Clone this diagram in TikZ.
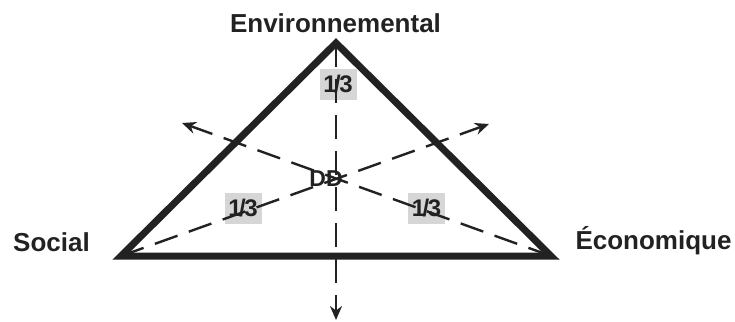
\documentclass[tikz,border=0pt]{standalone}
\usepackage{fontspec}
\setmainfont{Liberation Sans}
\usetikzlibrary{arrows.meta}
\definecolor{ink}{HTML}{222222}
\definecolor{boxgray}{HTML}{D6D6D6}
\begin{document}
\begin{tikzpicture}[x=1pt,y=-1pt,
  lbl/.style={font=\fontsize{26}{28}\selectfont\bfseries, text=ink, inner sep=0pt, anchor=base},
  frac/.style={fill=boxgray, minimum width=37pt, minimum height=31pt, inner sep=0pt, text=ink,
     font=\fontsize{24}{26}\selectfont\bfseries},
  dd/.style={font=\fontsize{23}{25}\selectfont\bfseries, text=ink, inner sep=0pt},
  axis/.style={draw=ink, line width=2.4pt, dash pattern=on 24pt off 12pt, -{Stealth[length=14pt,width=12pt]}},
  tri/.style={draw=ink, line width=7pt, line join=miter}]
\useasboundingbox (0,0) rectangle (735,321);
\coordinate (T) at (336,43);
\coordinate (L) at (121,256);
\coordinate (R) at (551,256);
\coordinate (AD) at (336,320);
\coordinate (AL) at (182,123);
\coordinate (AR) at (489,124);
\node[frac] (f1) at (338,84) {1\kern-2.5pt/\kern-1.5pt3};
\node[frac] (f2) at (243,208.5) {1\kern-2.5pt/\kern-1.5pt3};
\node[frac] (f3) at (426.5,208.5) {1\kern-2.5pt/\kern-1.5pt3};
\node[dd] (dd) at (326,179) {DD};
\draw[tri] (T) -- (L) -- (R) -- cycle;
\draw[axis] (T) -- (AD);
\draw[axis] (R) -- (AL);
\draw[axis] (L) -- (AR);
\node[lbl] (env) at (335.5,33) {Environnemental};
\node[lbl] (soc) at (51.5,251) {Social};
\node[lbl] (eco) at (653.5,249) {Économique};
\end{tikzpicture}
\end{document}
